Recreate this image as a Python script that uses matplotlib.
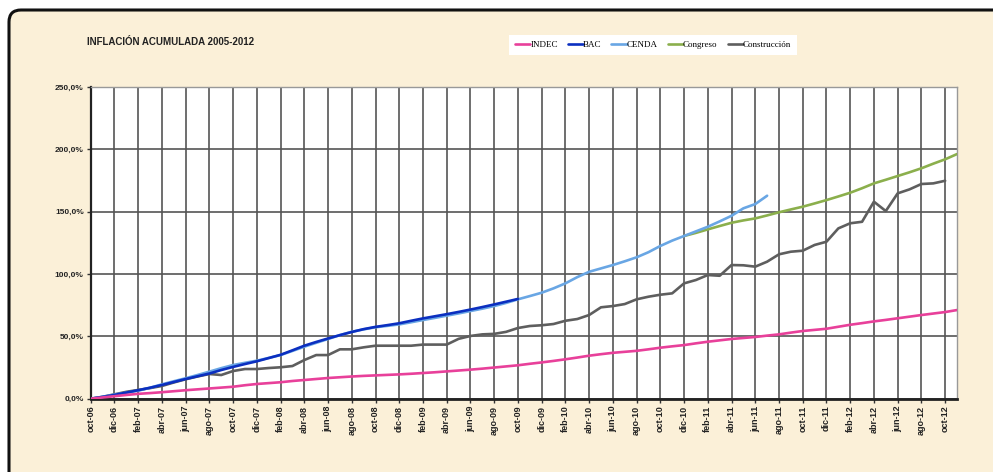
import matplotlib
matplotlib.use("Agg")
import matplotlib.pyplot as plt
from matplotlib.patches import FancyBboxPatch
import numpy as np

# months from oct-06 (index 0) to nov-12 (index 73)
mes_nombres = ["ene", "feb", "mar", "abr", "may", "jun", "jul", "ago", "sep", "oct", "nov", "dic"]
meses = []
for i in range(74):
    m = (9 + i) % 12
    a = 6 + (9 + i) // 12
    meses.append("%s-%02d" % (mes_nombres[m], a))

# accumulated inflation, % (start index of each series in the month list)
indec_ini = 0
indec = [0, 1.0, 2.0, 3.0, 3.9, 4.5, 5.2, 6.0, 6.8, 7.5, 8.2, 8.9, 9.6, 10.8, 11.8, 12.5,
         13.2, 14.2, 15.0, 15.8, 16.6, 17.2, 17.8, 18.3, 18.7, 19.1, 19.5, 20.0, 20.6, 21.2,
         21.9, 22.6, 23.3, 24.1, 25.0, 25.9, 26.8, 28.0, 29.1, 30.3, 31.6, 33.0, 34.5, 35.7,
         36.8, 37.6, 38.4, 39.6, 40.9, 42.0, 43.0, 44.4, 45.7, 46.8, 47.9, 48.7, 49.5, 50.6,
         51.6, 53.0, 54.3, 55.2, 56.1, 57.7, 59.3, 60.6, 62.0, 63.2, 64.5, 65.8, 67.1, 68.3,
         69.5, 71.1]

bac_ini = 0
bac = [0, 1.4, 3.0, 4.9, 6.8, 8.8, 11.0, 13.4, 15.8, 18.0, 20.2, 23.0, 25.5, 27.8, 30.0,
       32.6, 35.2, 38.8, 42.5, 45.5, 48.3, 51.0, 53.5, 55.8, 57.6, 59.0, 60.5, 62.5, 64.4,
       66.1, 67.8, 69.6, 71.5, 73.5, 75.6, 77.8, 80.0]

cenda_ini = 0
cenda = [0, 1.5, 3.3, 4.8, 6.4, 8.8, 11.5, 14.0, 16.4, 19.0, 21.7, 24.5, 27.0, 28.8, 30.5,
         32.7, 35.0, 38.3, 41.7, 44.8, 47.9, 51.0, 53.7, 55.6, 57.3, 58.4, 59.6, 61.3, 63.1,
         64.8, 66.6, 68.4, 70.3, 72.2, 74.3, 76.8, 79.7, 82.3, 85.0, 88.5, 92.5, 97.5, 101.8,
         104.5, 107.2, 110.2, 113.4, 117.5, 122.5, 126.8, 130.5, 134.2, 137.9, 142.2, 146.7,
         152.7, 156.1, 162.8]

congreso_ini = 50
congreso = [130.5, 133.0, 135.8, 138.5, 141.1, 143.0, 144.6, 147.0, 149.5, 151.8, 154.0,
            156.6, 159.3, 162.2, 165.2, 168.8, 172.7, 175.6, 178.6, 181.6, 184.8, 188.5,
            192.0, 196.2]

constr_ini = 0
construccion = [0, 1.5, 3.5, 5.5, 7.0, 8.5, 10.2, 13.0, 15.6, 17.8, 19.8, 19.0, 22.2, 23.8,
                23.8, 24.6, 25.2, 26.2, 31.0, 35.0, 35.0, 39.6, 39.6, 41.2, 42.5, 42.5, 42.5,
                42.5, 43.4, 43.4, 43.4, 48.0, 50.3, 51.6, 52.0, 53.6, 56.7, 58.3, 58.9, 59.9,
                62.5, 63.9, 67.1, 73.3, 74.3, 75.9, 79.7, 81.8, 83.4, 84.5, 92.5, 95.2, 99.2,
                98.6, 107.2, 107.0, 105.9, 109.9, 115.8, 117.9, 118.7, 123.3, 125.9, 136.6,
                140.7, 141.9, 158.0, 150.5, 164.7, 167.9, 172.2, 172.7, 174.8]

series = [
    ("INDEC", indec_ini, indec, "#E8409A"),
    ("BAC", bac_ini, bac, "#0B2FC0"),
    ("CENDA", cenda_ini, cenda, "#69A6E4"),
    ("Congreso", congreso_ini, congreso, "#8BAF4C"),
    ("Construcción", constr_ini, construccion, "#5E5E5E"),
]
y_ticks = [0, 50, 100, 150, 200, 250]

W, H = 993, 472
fig = plt.figure(figsize=(W / 100, H / 100), dpi=100)
fig.patch.set_facecolor("white")

# parchment background with rounded black frame
marco = FancyBboxPatch((9, -15), 1010, 472 - 10 + 15,
                       boxstyle="round,pad=0,rounding_size=12",
                       transform=None, facecolor="#FBF0D8", edgecolor="#111111",
                       linewidth=2.2, zorder=-5)
fig.patches.append(marco)

ax = fig.add_axes([90.7 / W, 1 - 398.7 / H, (957 - 90.7) / W, (398.7 - 87) / H])
ax.set_zorder(2)
ax.set_facecolor("white")

# draw order: congreso, construccion, cenda, bac, indec on top
zs = {"Congreso": 3.0, "Construcción": 3.1, "CENDA": 3.2, "BAC": 3.3, "INDEC": 3.4}
handles = {}
for nombre, ini, vals, col in series:
    x = np.arange(ini, ini + len(vals))
    ln, = ax.plot(x, vals, color=col, lw=1.9, zorder=zs[nombre],
                  solid_capstyle="round", solid_joinstyle="round")
    handles[nombre] = ln

ax.set_xlim(0, 73)
ax.set_ylim(0, 250)
ax.set_xticks(range(0, 73, 2))
ax.set_xticklabels(meses[0:73:2], rotation=90, fontsize=6.5, fontweight="bold",
                   family="Liberation Sans", color="#222222")
ax.set_yticks(y_ticks)
ax.set_yticklabels([("%.1f%%" % v).replace(".", ",") for v in y_ticks],
                   fontsize=6, fontweight="bold", family="Liberation Sans",
                   color="#222222")

ax.grid(True, color="#555555", lw=1.2, zorder=1)
ax.set_axisbelow(True)
ax.tick_params(axis="both", length=3, width=1, color="#333333", pad=2)
ax.spines["left"].set_color("#222222")
ax.spines["left"].set_linewidth(1.6)
ax.spines["bottom"].set_color("#222222")
ax.spines["bottom"].set_linewidth(2.0)
ax.spines["top"].set_color("#999999")
ax.spines["right"].set_color("#999999")
ax.spines["top"].set_linewidth(1.0)
ax.spines["right"].set_linewidth(1.0)

fig.text(87 / W, 1 - 42 / H, "INFLACIÓN ACUMULADA 2005-2012", fontsize=7,
         fontweight="bold", family="Liberation Sans", va="center", ha="left",
         color="#222222")

nombres = [s[0] for s in series]
leg = fig.legend([handles[n] for n in nombres], nombres, loc="center",
                 bbox_to_anchor=(653 / W, 1 - 45 / H), ncol=5, frameon=True,
                 fancybox=False, framealpha=1, edgecolor="white",
                 prop={"family": "Liberation Serif", "size": 6.5},
                 handlelength=1.7, handletextpad=0.0, columnspacing=1.1,
                 borderpad=0.6)
leg.get_frame().set_linewidth(0)

fig.savefig("out.png", dpi=100, facecolor=fig.get_facecolor())
